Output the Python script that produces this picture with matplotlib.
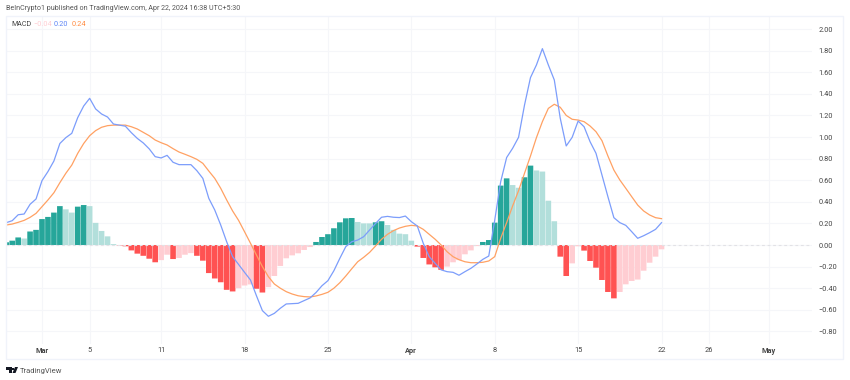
import numpy as np
import matplotlib
matplotlib.use("Agg")
import matplotlib.pyplot as plt
from matplotlib.patches import Polygon, Rectangle

W, H = 850, 380

# half-day bars, days counted from Mar 1
first_day = -3
last_day = 52

hist_values = [
    0.025, 0.04, 0.07, 0.06, 0.125, 0.14,
    0.24, 0.26, 0.30, 0.36, 0.33, 0.30, 0.355, 0.37, 0.36, 0.205, 0.13, 0.08, 0.008, -0.003,
    -0.012, -0.05, -0.08, -0.10, -0.127, -0.16, -0.14, -0.09, -0.13, -0.12, -0.09, -0.075,
    -0.10, -0.145, -0.26, -0.31, -0.345, -0.415, -0.43, -0.40, -0.375, -0.365, -0.405, -0.44,
    -0.39, -0.287, -0.194, -0.123, -0.096, -0.077, -0.046, -0.019, 0.028, 0.074, 0.10, 0.155,
    0.21, 0.247, 0.25, 0.213, 0.20, 0.20, 0.21, 0.22, 0.185, 0.14, 0.105, 0.10,
    0.04, -0.015, -0.12, -0.18, -0.207, -0.23, -0.20, -0.16, -0.14, -0.086, -0.05, -0.01,
    0.028, 0.046, 0.207, 0.55, 0.617, 0.555, 0.53, 0.627, 0.735, 0.69, 0.68, 0.41,
    0.22, -0.108, -0.287, -0.17, -0.012, -0.052, -0.148, -0.21, -0.324, -0.435, -0.494, -0.435,
    -0.364, -0.333, -0.32, -0.238, -0.164, -0.108, -0.04,
]

macd_values = [
    0.207, 0.225, 0.28, 0.287, 0.377, 0.426,
    0.596, 0.68, 0.778, 0.94, 0.994, 1.034, 1.18, 1.287, 1.358, 1.26, 1.213, 1.185, 1.12, 1.11,
    1.10, 1.04, 0.987, 0.945, 0.89, 0.818, 0.806, 0.83, 0.766, 0.744, 0.744, 0.744,
    0.688, 0.617, 0.432, 0.324, 0.185, 0.03, -0.108, -0.18, -0.253, -0.324, -0.47, -0.608,
    -0.66, -0.633, -0.586, -0.546, -0.543, -0.54, -0.515, -0.49, -0.44, -0.377, -0.33, -0.238,
    -0.123, -0.015, 0.03, 0.046, 0.077, 0.139, 0.2, 0.257, 0.265, 0.257, 0.254, 0.268,
    0.216, 0.176, 0.016, -0.108, -0.17, -0.23, -0.247, -0.253, -0.28, -0.247, -0.216, -0.176,
    -0.133, -0.102, 0.23, 0.586, 0.81, 0.895, 0.997, 1.296, 1.55, 1.667, 1.818, 1.667,
    1.528, 1.173, 0.917, 0.997, 1.148, 1.095, 0.957, 0.849, 0.648, 0.447, 0.253, 0.207,
    0.182, 0.123, 0.062, 0.086, 0.114, 0.145, 0.207,
]

signal_values = [
    0.185, 0.194, 0.21, 0.228, 0.256, 0.293,
    0.355, 0.417, 0.484, 0.577, 0.664, 0.74, 0.849, 0.94, 1.012, 1.059, 1.09, 1.105, 1.11, 1.11,
    1.11, 1.095, 1.074, 1.043, 1.012, 0.972, 0.947, 0.926, 0.892, 0.861, 0.84, 0.818,
    0.793, 0.756, 0.685, 0.617, 0.525, 0.417, 0.315, 0.228, 0.123, 0.016, -0.093, -0.2,
    -0.293, -0.361, -0.40, -0.432, -0.454, -0.47, -0.478, -0.481, -0.472, -0.457, -0.438, -0.40,
    -0.349, -0.287, -0.22, -0.155, -0.114, -0.068, -0.009, 0.053, 0.099, 0.133, 0.157, 0.173,
    0.182, 0.176, 0.145, 0.099, 0.053, 0.0, -0.062, -0.108, -0.136, -0.155, -0.164, -0.164,
    -0.16, -0.148, -0.108, 0.062, 0.207, 0.361, 0.503, 0.664, 0.824, 0.994, 1.142, 1.265,
    1.303, 1.275, 1.2, 1.164, 1.157, 1.142, 1.102, 1.049, 0.966, 0.824, 0.694, 0.602,
    0.525, 0.447, 0.37, 0.315, 0.278, 0.253, 0.244,
]

x_tick_days = [0, 4, 10, 17, 24, 31, 38, 45, 52, 56, 61]
x_tick_labels = ["Mar", "5", "11", "18", "25", "Apr", "8", "15", "22", "26", "May"]
month_labels = ["Mar", "Apr", "May"]
y_ticks = [2.0, 1.8, 1.6, 1.4, 1.2, 1.0, 0.8, 0.6, 0.4, 0.2, 0.0, -0.2, -0.4, -0.6, -0.8]

days = np.arange(first_day, last_day + 0.5, 0.5)

#bar colours follow the TradingView rule: strong when moving away from zero
bar_colors = []
for i, v in enumerate(hist_values):
    prev = hist_values[i - 1] if i > 0 else 0
    if v >= 0:
        bar_colors.append("#26a69a" if v > prev else "#b2dfdb")
    else:
        bar_colors.append("#ff5252" if v < prev else "#ffcdd2")

plt.rcParams["font.family"] = ["Roboto", "DejaVu Sans"]

fig = plt.figure(figsize=(W / 100, H / 100), dpi=100)
ax = fig.add_axes([6 / W, 1 - 344 / H, 806 / W, 328 / H])
ax.set_xlim((6 - 42) / 11.914, (812 - 42) / 11.914)
ax.set_ylim((245 - 344) / 108, (245 - 16) / 108)

#panel frame
fig.add_artist(Rectangle((6 / W, 1 - 359 / H), 837 / W, 343 / H, transform=fig.transFigure,
                         facecolor="none", edgecolor="#f0f3fa", linewidth=1))

ax.grid(True, color="#f5f6f9", linewidth=0.8)
ax.set_axisbelow(True)
for side in ax.spines:
    ax.spines[side].set_visible(False)

ax.bar(days, hist_values, width=0.47, color=bar_colors, linewidth=0, zorder=2, snap=False)
ax.axhline(0, color="#e2e2e6", linewidth=0.8, linestyle=(0, (2.5, 2.5)), zorder=3)
ax.plot(days, signal_values, color="#ffa163", linewidth=0.9, zorder=4)
ax.plot(days, macd_values, color="#7c9dfb", linewidth=0.9, zorder=5)

#axis labels
ax.yaxis.tick_right()
ax.set_yticks(y_ticks)
ax.set_yticklabels([f"{t:.2f}".replace("-", "\u2212") for t in y_ticks])
ax.set_xticks(x_tick_days)
ax.set_xticklabels(x_tick_labels)
ax.tick_params(axis="y", length=0, pad=4.5, labelsize=5.3, labelcolor="#444444")
ax.tick_params(axis="x", length=0, pad=2.5, labelsize=5.3, labelcolor="#444444")
for label in ax.get_xticklabels():
    if label.get_text() in month_labels:
        label.set_fontweight("bold")

#header and legend
fig.text(6 / W, 1 - 9 / H, "BeInCrypto1 published on TradingView.com, Apr 22, 2024 16:38 UTC+5:30",
         fontsize=5.1, color="#555555", va="center")
fig.text(11 / W, 1 - 25 / H, "MACD", fontsize=5.1, color="#444444", va="center")
fig.text(33 / W, 1 - 25 / H, "\u22120.04", fontsize=5.3, color="#ffcdd2", va="center")
fig.text(54 / W, 1 - 25 / H, "0.20", fontsize=5.3, color="#5f86f5", va="center")
fig.text(72 / W, 1 - 25 / H, "0.24", fontsize=5.3, color="#ff8c42", va="center")

#TradingView logo
def px(x, y):
    return (x / W, 1 - y / H)

fig.add_artist(Polygon([px(6, 367), px(12, 367), px(12, 373), px(9, 373), px(9, 370), px(6, 370)],
                       transform=fig.transFigure, facecolor="#131722", edgecolor="none"))
fig.add_artist(Polygon([px(15, 367), px(18, 367), px(15.5, 373), px(12.5, 373)],
                       transform=fig.transFigure, facecolor="#131722", edgecolor="none"))
fig.add_artist(Rectangle(px(12.4, 369.6), 1.8 / W, 1.8 / H, transform=fig.transFigure,
                         facecolor="#131722", edgecolor="none"))
fig.text(20 / W, 1 - 370.5 / H, "TradingView", fontsize=5.5, color="#555555", va="center")

fig.savefig("out.png", dpi=100)
